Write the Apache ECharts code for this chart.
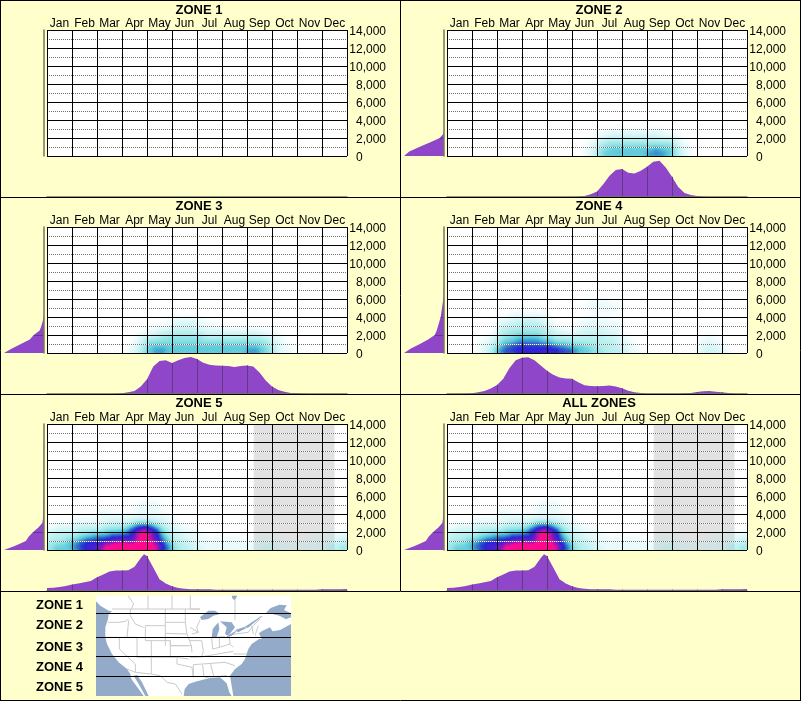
<!DOCTYPE html>
<html><head><meta charset="utf-8">
<script src="https://cdn.jsdelivr.net/npm/echarts@6/dist/echarts.min.js"></script>
<style>html,body{margin:0;padding:0;background:#FFFFCC}#c{width:801px;height:701px}</style></head>
<body><div id="c"></div>
<script>
const MONTHS=['Jan','Feb','Mar','Apr','May','Jun','Jul','Aug','Sep','Oct','Nov','Dec'];
const ZONE_NAMES=['ZONE 1','ZONE 2','ZONE 3','ZONE 4','ZONE 5'];
const ELEV_TICKS=[0,2000,4000,6000,8000,10000,12000,14000];
const HEAT_COLORS=['#8CE6EB','#8CE6EB','#8CE6EB','#8CE6EB','#8CE6EB','#88E5EA','#84E4E9','#80E3E8','#78E1E6','#72DFE2','#6CDEDE','#5AD6DA','#47CFD6','#2DBFCF','#13AFC9','#007FC0','#0038BA','#0000D0','#6100C2','#FF008A','#FF008A'];

/* density on a quarter-month x 500 ft grid; first row is 0-500 ft */
const ZONE2_HEAT=[
[0,0,0,0,0,0,0,0,0,0,0,0,0,0,0,0,0,0,0,0,0,0,1,2,4,5,5,5,5,5,5,5,6,6,6,5,4,2,1],
[0,0,0,0,0,0,0,0,0,0,0,0,0,0,0,0,0,0,0,0,0,0,1,2,4,4,5,5,5,5,5,5,5,6,5,5,4,2,1],
[0,0,0,0,0,0,0,0,0,0,0,0,0,0,0,0,0,0,0,0,0,0,1,1,3,4,4,4,4,4,4,4,4,4,4,4,3,1,1],
[0,0,0,0,0,0,0,0,0,0,0,0,0,0,0,0,0,0,0,0,0,0,0,1,2,3,3,3,3,3,3,3,3,3,3,3,2,1],
[0,0,0,0,0,0,0,0,0,0,0,0,0,0,0,0,0,0,0,0,0,0,0,0,1,1,2,2,2,2,2,2,2,2,1,1,1],
[0,0,0,0,0,0,0,0,0,0,0,0,0,0,0,0,0,0,0,0,0,0,0,0,0,1,1,1,1,1,1,1,1,1,1]];
const ZONE3_HEAT=[
[0,0,0,0,0,0,0,0,0,0,0,0,0,1,2,4,5,6,6,5,5,5,5,5,5,5,5,5,5,5,5,5,6,6,5,4,3,1,1],
[0,0,0,0,0,0,0,0,0,0,0,0,0,1,2,3,5,5,5,5,5,5,5,5,5,5,5,5,5,5,5,5,5,5,4,4,2,1,1],
[0,0,0,0,0,0,0,0,0,0,0,0,0,0,1,3,4,4,4,4,4,4,4,4,4,4,4,4,4,4,4,4,4,4,4,3,2,1],
[0,0,0,0,0,0,0,0,0,0,0,0,0,0,1,2,3,3,4,4,4,4,4,4,4,3,3,3,3,3,3,3,3,3,3,2,1,1],
[0,0,0,0,0,0,0,0,0,0,0,0,0,0,0,1,1,2,2,3,3,3,3,3,3,2,2,2,2,2,2,2,2,2,1,1,1],
[0,0,0,0,0,0,0,0,0,0,0,0,0,0,0,0,0,1,1,1,2,2,2,2,1,1,1,1],
[0,0,0,0,0,0,0,0,0,0,0,0,0,0,0,0,0,0,0,1,1,2,2,2,1,1],
[0,0,0,0,0,0,0,0,0,0,0,0,0,0,0,0,0,0,0,0,1,1,1,1,1]];
const ZONE4_HEAT=[
[0,0,0,0,0,1,2,4,6,7,7,8,8,8,8,8,8,8,7,7,6,5,5,4,4,3,3,3,2,1,1,0,0,0,0,0,0,0,0,0,1,2,2,2,1],
[0,0,0,0,0,1,2,3,5,6,7,7,7,7,7,7,7,6,6,5,5,5,4,4,3,3,3,2,2,1,0,0,0,0,0,0,0,0,0,0,1,2,2,1],
[0,0,0,0,0,1,1,2,4,5,5,6,6,6,6,5,5,4,4,4,3,3,3,3,3,3,3,2,1,1,0,0,0,0,0,0,0,0,0,0,1,1,1,1],
[0,0,0,0,0,0,1,2,3,4,4,5,5,5,5,4,4,3,3,3,3,3,3,3,3,2,2,2,1,0,0,0,0,0,0,0,0,0,0,0,0,1,1],
[0,0,0,0,0,0,0,0,3,3,4,4,4,4,4,3,3,2,2,1,1,2,2,2,2,2,2,1],
[0,0,0,0,0,0,0,0,2,3,3,3,3,3,3,3,2,1,0,0,1,1,2,2,2,1,1,1],
[0,0,0,0,0,0,0,0,1,2,2,3,3,3,3,2,1,0,0,0,0,1,1,1,1,1,1,1],
[0,0,0,0,0,0,0,0,1,1,2,2,2,2,2,1,1,0,0,0,0,0,1,1,1,1],
[0,0,0,0,0,0,0,0,0,0,1,1,1,1,1,1],
[0,0,0,0,0,0,0,0,0,0,0,0,0,0,0,0,0,0,0,0,0,0,0,1,1,1,1],
[0,0,0,0,0,0,0,0,0,0,0,0,0,0,0,0,0,0,0,0,0,0,1,1,1,1,1,1],
[0,0,0,0,0,0,0,0,0,0,0,0,0,0,0,0,0,0,0,0,0,0,0,1,1,1]];
const ZONE5_HEAT=[
[4,5,5,5,6,7,8,8,9,11,12,12,12,12,12,12,12,10,8,6,4,3,3,2,2,1,1,1,1,1,1,1,1,1,2,2,2,1,1,1,1,1,1,1,2,3,3,4],
[3,4,4,5,6,7,8,8,8,9,9,10,10,9,11,12,11,9,7,5,3,3,2,2,1,1,1,1,1,1,1,1,1,1,1,1,1,1,1,1,1,1,1,1,1,2,2,3],
[3,3,3,4,4,5,6,6,7,7,8,8,8,8,9,12,9,8,6,4,3,2,2,1,1,1,1,1,1,1,1,0,0,1,1,1,1,0,0,0,0,0,1,1,1,1,2,2],
[2,3,3,3,3,4,4,5,5,5,6,6,6,7,10,12,10,8,5,3,2,2,1,1,1,0,0,0,0,0,0,0,0,0,0,0,0,0,0,0,0,0,0,0,0,1,1,1],
[1,2,2,2,2,3,3,3,3,4,4,4,5,7,8,9,8,7,4,3,2,1,1,1],
[0,1,1,1,2,2,2,2,2,3,3,3,3,4,6,6,6,4,3,2,1,1],
[0,0,0,0,1,1,1,1,1,1,2,2,2,2,3,3,3,2,2,1,1],
[0,0,0,0,0,0,0,0,1,1,1,1,1,1,1,1,1,1,1,1],
[0,0,0,0,0,0,0,0,1,1,0,0,0,0,1,1,1,1],
[0,0,0,0,0,0,0,0,0,0,0,0,0,0,1,1,1,1],
[0,0,0,0,0,0,0,0,0,0,0,0,0,0,0,1,1,1]];
const ALL_HEAT=ZONE5_HEAT;

/* monthly-profile curves, one value per quarter month */
const ZONE2_BOTTOM=[0,0,0,0,0,0,0,0,0,0,0,0,0,0,0,0,0,0,0,0,0,1,3,8,16,38,63,80,83,72,70,78,90,105,108,88,60,30,12,6,3,1,0,0,0,0,0,0,0];
const ZONE3_BOTTOM=[0,0,0,0,0,0,0,0,0,0,0,1,2,5,9,22,44,82,98,100,92,100,107,110,104,93,87,85,84,83,80,83,85,82,64,40,22,12,7,3,2,1,0,0,0,0,0,0,0];
const ZONE4_BOTTOM=[0,0,0,1,2,5,9,16,27,45,77,100,108,109,100,85,69,57,49,46,45,35,26,24,23,24,25,22,17,10,5,3,1,1,1,1,1,1,2,3,6,8,9,7,5,3,1,0,0];
const ZONE5_BOTTOM=[9,10,12,15,19,22,26,30,41,49,58,61,61,62,72,98,104,70,35,22,14,9,7,5,5,5,5,4,4,4,4,4,4,4,4,4,4,4,4,4,4,4,4,4,5,5,5,5,6];
const ZONE5_PEAK=[3.88,109];
/* elevation profile curves, one value per 500 ft from 0 to 14,000 */
const ZONE2_LEFT=[121,105,75,43,13,1,0];
const ZONE3_LEFT=[121,97,70,43,31,13,8,4,1,0];
const ZONE4_LEFT=[121,100,73,48,28,22,18,14,10,8,6,4,2,1,1,0];
const ZONE5_LEFT=[121,85,55,46,33,17,5,3,2,2,2,2,1,1,1,1,1,1,1,1,1,1,1,1,0];
const SEASON_MONTHS=[8.27,11.5];

const PANELS=[
 {title:'ZONE 1',col:0,row:0,heat:null,bottom:null,left:null},
 {title:'ZONE 2',col:1,row:0,heat:ZONE2_HEAT,bottom:ZONE2_BOTTOM,left:ZONE2_LEFT},
 {title:'ZONE 3',col:0,row:1,heat:ZONE3_HEAT,bottom:ZONE3_BOTTOM,left:ZONE3_LEFT},
 {title:'ZONE 4',col:1,row:1,heat:ZONE4_HEAT,bottom:ZONE4_BOTTOM,left:ZONE4_LEFT},
 {title:'ZONE 5',col:0,row:2,heat:ZONE5_HEAT,bottom:ZONE5_BOTTOM,left:ZONE5_LEFT,peak:ZONE5_PEAK,season:SEASON_MONTHS},
 {title:'ALL ZONES',col:1,row:2,heat:ALL_HEAT,bottom:ZONE5_BOTTOM,left:ZONE5_LEFT,peak:ZONE5_PEAK,season:SEASON_MONTHS}
];

const PURPLE='#8F46C9', TICK='#5F3A85', AXIS_GRAY='#77775F', FONT='"Liberation Sans",Arial,sans-serif';
const ROW_TOP=[30,227,424], TITLE_Y=[3,199,396], COL_X=[0,400];
const xMonthCat=MONTHS;
const yLeftCat=Array.from({length:29},(_,i)=>String(i*500));

echarts.registerMap('plotBox',{type:'FeatureCollection',features:[{type:'Feature',properties:{name:'box'},
  geometry:{type:'Polygon',coordinates:[[[0,0],[48,0],[48,28],[0,28],[0,0]]]}}]});

const grid=[],xAxis=[],yAxis=[],series=[],title=[],geo=[],heatIdx=[];
function lineRender(horizontal){
  return function(params,api){
    const a=horizontal?api.coord([0,api.value(1)]):api.coord([api.value(0),0]);
    const b=api.coord([api.value(0),api.value(1)]);
    const p=Math.round(horizontal?a[1]:a[0])+0.5;
    return {type:'line',shape:horizontal?{x1:a[0],y1:p,x2:b[0],y2:p}:{x1:p,y1:a[1],x2:p,y2:b[1]},
      style:{stroke:TICK,lineWidth:1},silent:true};
  };
}
PANELS.forEach(p=>{
  const ox=COL_X[p.col], top=ROW_TOP[p.row], plotL=ox+47, plotW=300, plotH=126;
  title.push({text:p.title,left:ox+199,top:TITLE_Y[p.row],textAlign:'center',padding:0,
    textStyle:{fontFamily:FONT,fontSize:13,fontWeight:'bold',color:'#000',lineHeight:14}});

  /* main plot */
  let g=grid.length;
  grid.push({left:plotL,top:top,width:plotW,height:plotH,show:true,backgroundColor:'#fff',borderWidth:0});
  xAxis.push({gridIndex:g,type:'category',data:xMonthCat,position:'top',z:5,
    axisLine:{show:false},axisTick:{show:false},
    axisLabel:{interval:0,margin:0,fontFamily:FONT,fontSize:12,color:'#000'},
    splitLine:{show:true,interval:0,lineStyle:{color:'#000',width:1}}});
  yAxis.push({gridIndex:g,type:'value',position:'right',min:0,max:14000,interval:2000,z:5,
    axisLine:{show:false},axisTick:{show:false},
    axisLabel:{margin:39,align:'right',fontFamily:FONT,fontSize:12,color:'#000',
      rich:{v:{fontFamily:FONT,fontSize:12,color:'#000',padding:[3,0,0,0]}},
      formatter:v=>'{v|'+(v===0?'0       ':v.toLocaleString('en-US'))+'}'},
    splitLine:{show:true,lineStyle:{color:'#000',width:1}},
    minorTick:{splitNumber:2},
    minorSplitLine:{show:true,lineStyle:{color:'#707070',width:1,type:[1,1]}}});
  if(p.heat){
    const geoI=geo.length;
    geo.push({map:'plotBox',left:plotL,top:top,width:plotW,height:plotH,roam:false,silent:true,
      label:{show:false},itemStyle:{areaColor:'transparent',borderWidth:0},
      emphasis:{disabled:true},select:{disabled:true},tooltip:{show:false}});
    const data=[];
    p.heat.forEach((row,r)=>row.forEach((v,c)=>{
      if(v<=0)return;
      data.push([c+0.5,r+0.5,v]);
      if(r===0)data.push([c+0.5,-0.5,v]);      /* keep the density from fading at the plot's edges */
      if(c===0)data.push([-0.5,r+0.5,v]);
      if(c===47)data.push([48.5,r+0.5,v]);
    }));
    heatIdx.push(series.length);
    series.push({type:'heatmap',coordinateSystem:'geo',geoIndex:geoI,data:data,z:2,silent:true,
      pointSize:5,blurSize:5,minOpacity:0,maxOpacity:1,progressive:0});
  }

  /* overlay: white stripe beneath the dotted lines, and the shaded season */
  g=grid.length;
  grid.push({left:plotL,top:top,width:plotW,height:plotH,show:false});
  const xOv=xAxis.length, yOv=yAxis.length;
  xAxis.push({gridIndex:g,type:'value',min:0,max:12,show:false});
  yAxis.push({gridIndex:g,type:'value',min:0,max:14000,interval:2000,z:3,
    axisLine:{show:false},axisTick:{show:false},axisLabel:{show:false},splitLine:{show:false},
    minorTick:{splitNumber:2},minorSplitLine:{show:true,lineStyle:{color:'#fff',width:1}}});
  if(p.season){
    series.push({type:'custom',xAxisIndex:xOv,yAxisIndex:yOv,z:1,silent:true,data:[p.season],
      encode:{x:[0,1]},
      renderItem:(params,api)=>{
        const a=api.coord([api.value(0),14000]),b=api.coord([api.value(1),0]);
        return {type:'rect',shape:{x:a[0],y:a[1],width:b[0]-a[0],height:b[1]-a[1]},style:{fill:'#E2E2E2'}};
      }});
  }

  /* left elevation profile */
  g=grid.length;
  grid.push({left:ox+4,top:top,width:40,height:plotH,show:false});
  const xL=xAxis.length,yL=yAxis.length;
  xAxis.push({gridIndex:g,type:'value',min:0,max:121,inverse:true,show:false});
  yAxis.push({gridIndex:g,type:'category',data:yLeftCat,boundaryGap:false,position:'right',z:4,
    axisLine:{show:true,onZero:false,lineStyle:{color:AXIS_GRAY,width:1.5}},axisTick:{show:false},axisLabel:{show:false}});
  if(p.left){
    series.push({type:'line',xAxisIndex:xL,yAxisIndex:yL,symbol:'none',silent:true,z:2,
      lineStyle:{width:0},areaStyle:{color:PURPLE,opacity:1},
      data:p.left.map((v,i)=>[v,i])});
    const ticks=[];
    ELEV_TICKS.forEach(t=>{const i=t/500;if(i>0&&p.left[i]>2)ticks.push([p.left[i],i]);});
    series.push({type:'custom',xAxisIndex:xL,yAxisIndex:yL,z:3,silent:true,data:ticks,
      encode:{x:0,y:1},renderItem:lineRender(true)});
  }

  /* bottom seasonal profile */
  g=grid.length;
  grid.push({left:plotL,top:top+plotH+4,width:plotW,height:37,show:false});
  const xB=xAxis.length,yB=yAxis.length;
  xAxis.push({gridIndex:g,type:'value',min:0,max:12,interval:1,position:'bottom',z:4,
    axisLine:{show:true,onZero:false,lineStyle:{color:AXIS_GRAY,width:1.5}},axisTick:{show:false},axisLabel:{show:false},splitLine:{show:false}});
  yAxis.push({gridIndex:g,type:'value',min:0,max:110,show:false});
  if(p.bottom){
    const pts=p.bottom.map((v,i)=>[i/4,v]);
    if(p.peak){pts.push(p.peak);pts.sort((a,b)=>a[0]-b[0]);}
    series.push({type:'line',xAxisIndex:xB,yAxisIndex:yB,symbol:'none',silent:true,z:2,
      lineStyle:{width:0},areaStyle:{color:PURPLE,opacity:1},data:pts});
    const ticks=[];
    for(let m=1;m<12;m++){const v=p.bottom[m*4];if(v>2)ticks.push([m,v]);}
    series.push({type:'custom',xAxisIndex:xB,yAxisIndex:yB,z:3,silent:true,data:ticks,
      encode:{x:0,y:1},renderItem:lineRender(false)});
  }
});

/* frame and legend */
const frame=[[0.5,0,0.5,701],[400.5,0,400.5,591],[800.5,0,800.5,701],[0,0.5,801,0.5],[0,197.5,801,197.5],[0,394.5,801,394.5],[0,591.5,801,591.5],[0,700.5,801,700.5]]
 .map(s=>({type:'line',shape:{x1:s[0],y1:s[1],x2:s[2],y2:s[3]},style:{stroke:'#000',lineWidth:1},z:20,silent:true}));
const LEGEND_Y=[605,625,647,667,687];
const legend=ZONE_NAMES.map((t,i)=>({type:'text',x:83,y:LEGEND_Y[i],z:20,silent:true,
  style:{text:t,align:'right',verticalAlign:'middle',font:'bold 13px '+FONT,fill:'#000'}}));

const OCEAN='#93ABC9', BORDER='#CACACA';
const MAP_WATER=[
 [[288,34],[301,47],[326,62],[336,64],[326,72],[324,87],[316,112],[316,142],[321,162],[336,192],[356,217],[381,237],[391,252],[394,267],[401,277],[416,297],[431,318],[288,318]],
 [[401,257],[411,255],[426,277],[446,318],[436,318],[416,282]],
 [[551,318],[554,297],[566,282],[591,274],[630,264],[660,262],[680,280],[688,307],[695,318]],
 [[700,318],[695,287],[690,257],[705,237],[725,222],[735,207],[740,192],[745,177],[755,162],[777,147],[785,147],[777,130],[785,124],[810,112],[818,124],[840,120],[873,102],[873,318]],
 [[795,72],[812,54],[838,44],[860,46],[852,60],[873,70],[873,82],[858,88],[840,78],[818,72]],
 [[695,17],[712,17],[705,30],[698,27]],
 [[600,82],[625,62],[645,62],[660,72],[640,77],[625,87],[605,90]],
 [[635,142],[638,117],[655,97],[658,117],[650,142],[642,142]],
 [[660,94],[695,97],[705,112],[685,137],[675,132],[680,112]],
 [[673,144],[705,124],[710,124],[695,137]],
 [[705,120],[735,110],[740,114],[715,127]],
 [[735,110],[785,77],[787,79],[743,114]]
];
const MAP_LINES=[
 [[384,17],[401,42],[394,57]],[[444,17],[444,57]],[[516,17],[516,57]],[[571,17],[571,57]],
 [[336,57],[600,57]],[[391,57],[391,77],[406,102],[431,112]],[[324,97],[356,97],[376,94],[386,87]],
 [[386,92],[381,142]],[[316,142],[411,142]],[[358,142],[358,177],[406,222],[406,247]],
 [[411,142],[411,202],[454,202]],[[436,107],[496,107]],[[436,107],[436,152],[511,152],[511,167],[566,167]],
 [[454,152],[454,252]],[[511,152],[511,202]],[[454,202],[531,202],[566,207]],[[496,57],[496,167]],
 [[496,97],[556,97]],[[496,130],[561,132]],[[556,57],[556,97],[561,132],[574,167],[576,187]],
 [[511,167],[574,167]],[[531,202],[531,222],[576,232]],[[381,237],[406,247],[454,252],[481,257],[501,277],[526,282],[546,312]],
 [[570,57],[600,57]],[[600,90],[590,112],[595,127],[575,132]],[[570,112],[595,127]],[[570,152],[605,152],[610,182],[605,202]],
 [[635,142],[638,177]],[[658,142],[658,172]],[[635,142],[675,140]],[[688,137],[690,162]],[[690,134],[745,127]],
 [[595,202],[700,184]],[[580,224],[675,217]],[[675,217],[705,227]],[[700,192],[740,192]],[[632,222],[642,262]],
 [[608,224],[612,262]],[[615,262],[680,257]],[[570,202],[595,202]],[[580,224],[580,262]],
 [[745,127],[760,107],[780,87]],[[755,107],[760,132]],[[775,107],[765,137]],[[576,232],[580,262]],
 [[638,177],[658,172],[690,162],[700,172]],[[705,30],[705,90]]
];
const mapChildren=[{type:'rect',shape:{x:288,y:17,width:585,height:301},style:{fill:'#fff'}}]
 .concat(MAP_LINES.map(l=>({type:'polyline',shape:{points:l},style:{stroke:BORDER,fill:null,lineWidth:3}})))
 .concat(MAP_WATER.map(w=>({type:'polygon',shape:{points:w},style:{fill:OCEAN}})));
const MAP_ZONE_LINES=[613.5,637.5,656.5,676.5];
const zoneLines=MAP_ZONE_LINES.map(y=>({type:'line',shape:{x1:96,y1:y,x2:291,y2:y},style:{stroke:'#000',lineWidth:1},z:21,silent:true}));

const chart=echarts.init(document.getElementById('c'),null,{renderer:'canvas',width:801,height:701});
chart.setOption({
  animation:false,backgroundColor:'#FFFFCC',tooltip:{show:false},
  title,grid,xAxis,yAxis,geo,series,
  visualMap:{type:'continuous',show:false,min:0,max:12,dimension:2,seriesIndex:heatIdx,inRange:{color:HEAT_COLORS}},
  graphic:{elements:[{type:'group',x:0,y:590,scaleX:1/3,scaleY:1/3,z:15,silent:true,children:mapChildren}].concat(zoneLines,legend,frame)}
});
</script></body></html>
